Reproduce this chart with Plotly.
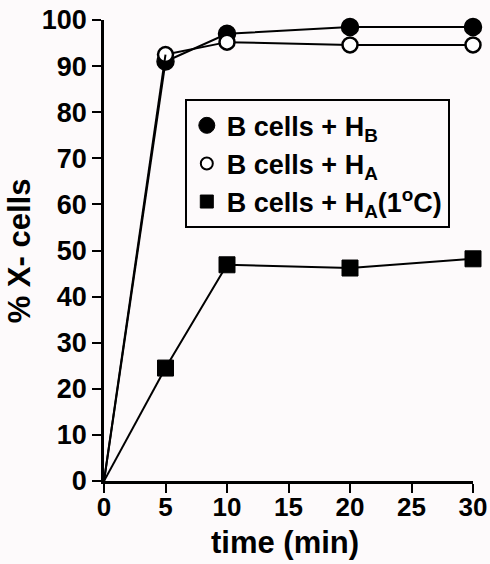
import plotly.graph_objects as go

time_min = [0, 5, 10, 20, 30]
hb_values = [0, 91, 97, 98.5, 98.5]
ha_values = [0, 92.5, 95.2, 94.6, 94.6]
ha_cold_values = [0, 24.5, 46.9, 46.2, 48.2]

names = ["B cells + H<sub>B</sub>", "B cells + H<sub>A</sub>", "B cells + H<sub>A</sub>(1<sup>o</sup>C)"]
x_ticks = [0, 5, 10, 15, 20, 25, 30]
y_ticks = [0, 10, 20, 30, 40, 50, 60, 70, 80, 90, 100]

FONT = "Liberation Sans, Arial, Helvetica, sans-serif"
BG = "#fdfafb"

fig = go.Figure()
line = dict(color="black", width=2)
styles = [
    dict(symbol="circle", size=17, color="black", line=dict(color="black", width=1.5)),
    dict(symbol="circle", size=15, color="white", line=dict(color="black", width=2.5)),
    dict(symbol="square", size=16, color="black", line=dict(color="black", width=1)),
]
series = [hb_values, ha_values, ha_cold_values]
for vals, st in zip(series, styles):
    fig.add_trace(go.Scatter(x=time_min[1:], y=vals[1:], mode="lines+markers", line=line,
                             marker=st, showlegend=False, cliponaxis=False))
# origin segments (lines without marker at the origin)
for vals in series:
    fig.add_trace(go.Scatter(x=time_min[:2], y=vals[:2], mode="lines", line=line,
                             showlegend=False, cliponaxis=False))

legend_styles = [
    dict(symbol="circle", size=16, color="black", line=dict(color="black", width=1)),
    dict(symbol="circle", size=12, color="white", line=dict(color="black", width=2)),
    dict(symbol="square", size=13, color="black", line=dict(color="black", width=1)),
]
for name, st in zip(names, legend_styles):
    fig.add_trace(go.Scatter(x=[None], y=[None], mode="markers", marker=st, name=name))

fig.update_layout(
    width=490, height=564,
    margin=dict(l=104, r=17, t=20, b=83, autoexpand=False),
    paper_bgcolor=BG, plot_bgcolor=BG,
    font=dict(family=FONT, color="black", size=26, weight="bold"),
    legend=dict(x=0.219, y=0.828, xanchor="left", yanchor="top",
                bgcolor=BG, bordercolor="black", borderwidth=2,
                font=dict(size=27, family=FONT, weight="bold", color="black"),
                itemwidth=30, tracegroupgap=0),
    xaxis=dict(range=[0, 30], tickvals=x_ticks, showline=True, linecolor="black", linewidth=2.5,
               ticks="outside", ticklen=9, tickwidth=2, tickcolor="black", showgrid=False,
               zeroline=False, automargin=False, ticklabelstandoff=-8,
               tickfont=dict(size=26, family=FONT, weight="bold")),
    yaxis=dict(range=[0, 100], tickvals=y_ticks, showline=True, linecolor="black", linewidth=2.5,
               ticks="outside", ticklen=9, tickwidth=2, tickcolor="black", showgrid=False,
               zeroline=False, automargin=False,
               tickfont=dict(size=27, family=FONT, weight="bold")),
    annotations=[
        dict(text="time (min)", xref="paper", yref="paper", x=0.49, y=-0.134,
             xanchor="center", yanchor="middle", showarrow=False,
             font=dict(size=31, family=FONT, weight="bold")),
        dict(text="% X- cells", xref="paper", yref="paper", x=-0.228, y=0.5,
             xanchor="center", yanchor="middle", textangle=-90, showarrow=False,
             font=dict(size=31, family=FONT, weight="bold")),
    ],
)

fig.write_html("out.html", config={"displayModeBar": False},
               post_script="document.body.style.margin='0px';")
